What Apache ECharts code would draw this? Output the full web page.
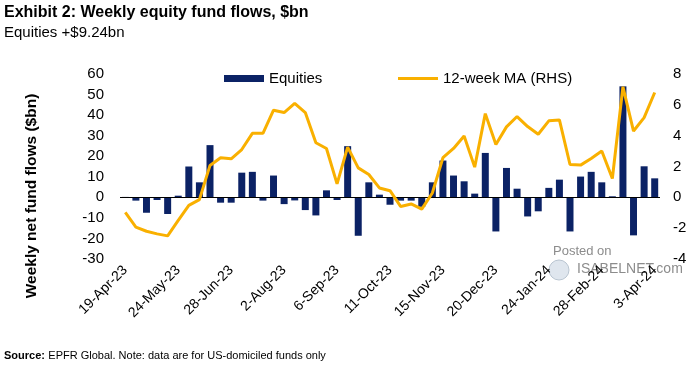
<!DOCTYPE html>
<html><head><meta charset="utf-8">
<script src="https://cdn.jsdelivr.net/npm/echarts@6/dist/echarts.min.js"></script>
<style>html,body{margin:0;padding:0;background:#fff}#c{width:690px;height:367px}</style>
</head><body><div id="c"></div>
<script>
const categories = ["19-Apr-23","26-Apr-23","3-May-23","10-May-23","17-May-23","24-May-23","31-May-23","7-Jun-23","14-Jun-23","21-Jun-23","28-Jun-23","5-Jul-23","12-Jul-23","19-Jul-23","26-Jul-23","2-Aug-23","9-Aug-23","16-Aug-23","23-Aug-23","30-Aug-23","6-Sep-23","13-Sep-23","20-Sep-23","27-Sep-23","4-Oct-23","11-Oct-23","18-Oct-23","25-Oct-23","1-Nov-23","8-Nov-23","15-Nov-23","22-Nov-23","29-Nov-23","6-Dec-23","13-Dec-23","20-Dec-23","27-Dec-23","3-Jan-24","10-Jan-24","17-Jan-24","24-Jan-24","31-Jan-24","7-Feb-24","14-Feb-24","21-Feb-24","28-Feb-24","6-Mar-24","13-Mar-24","20-Mar-24","27-Mar-24","3-Apr-24"];
const equities = [0.2,-1.6,-7.5,-1.3,-8.1,0.8,15.0,7.3,25.4,-2.6,-2.6,12.0,12.4,-1.6,10.6,-3.3,-1.5,-6.2,-8.8,3.4,-1.3,24.9,-18.7,7.3,1.3,-3.6,-1.6,-1.6,-4.6,7.3,17.9,10.6,7.8,1.8,21.6,-16.6,14.3,4.2,-9.3,-6.8,4.6,8.6,-16.6,10.1,12.4,7.3,0.5,54.0,-18.5,15.1,9.24];
const ma12 = [-0.98,-1.93,-2.2,-2.37,-2.5,-1.5,-0.52,-0.15,2.07,2.57,2.5,3.1,4.15,4.15,5.65,5.5,6.09,5.5,3.54,3.17,0.87,3.26,1.91,1.48,0.61,0.43,-0.59,-0.43,-0.76,0.28,2.57,3.17,3.98,1.96,5.43,3.43,4.57,5.24,4.59,4.09,4.96,5.02,2.13,2.09,2.52,3.0,1.22,7.17,4.3,5.17,6.8];
const leftTicks = {min:-30,max:60,interval:10};
const rightTicks = {min:-4,max:8,interval:2};

const FONT = '"Liberation Sans", Arial, sans-serif';
const chart = echarts.init(document.getElementById('c'));
chart.setOption({
  animation:false,
  textStyle:{fontFamily:FONT},
  grid:{left:120,right:30,top:74,bottom:108,containLabel:false},
  legend:[
    {left:224, top:71, padding:0, itemWidth:40, itemHeight:7, icon:'rect',
     textStyle:{fontSize:15,color:'#000',fontFamily:FONT}, data:['Equities']},
    {left:398, top:71, padding:0, itemWidth:40, itemHeight:3, icon:'rect',
     textStyle:{fontSize:15,color:'#000',fontFamily:FONT}, data:['12-week MA (RHS)']}
  ],
  xAxis:{
    type:'category', data:categories, boundaryGap:true,
    axisLine:{show:false,onZero:false}, axisTick:{show:false},
    axisLabel:{interval:4, rotate:45, fontSize:14, color:'#000', margin:9, fontFamily:FONT}
  },
  yAxis:[
    {type:'value', min:leftTicks.min, max:leftTicks.max, interval:leftTicks.interval,
     splitLine:{show:false}, axisLine:{show:false}, axisTick:{show:false},
     axisLabel:{fontSize:15,color:'#000',margin:16,fontFamily:FONT}},
    {type:'value', min:rightTicks.min, max:rightTicks.max, interval:rightTicks.interval,
     splitLine:{show:false}, axisLine:{show:false}, axisTick:{show:false},
     axisLabel:{fontSize:15,color:'#000',margin:13,fontFamily:FONT}}
  ],
  series:[
    {name:'Equities', type:'bar', data:equities, yAxisIndex:0, barWidth:7,
     itemStyle:{color:'#0B2265'},
     markLine:{silent:true, symbol:'none', label:{show:false},
       lineStyle:{color:'#000',width:1,type:'solid'}, data:[{yAxis:0}]}},
    {name:'12-week MA (RHS)', type:'line', data:ma12, yAxisIndex:1, symbol:'none',
     lineStyle:{color:'#F9B000',width:3}, itemStyle:{color:'#F9B000'}, z:5}
  ],
  graphic:[
    {type:'text', left:4, top:5, style:{text:'Exhibit 2: Weekly equity fund flows, $bn', font:'bold 16px '+FONT, fill:'#000'}},
    {type:'text', left:4, top:25, style:{text:'Equities +$9.24bn', font:'15px '+FONT, fill:'#000'}},
    {type:'text', x:32, y:196, rotation:Math.PI/2, style:{text:'Weekly net fund flows ($bn)', font:'bold 15.5px '+FONT, fill:'#000', align:'center', verticalAlign:'middle'}},
    {type:'text', left:4, top:350, style:{rich:{b:{font:'bold 11px '+FONT,fill:'#000'},n:{font:'11px '+FONT,fill:'#000'}}, text:'{b|Source:} {n|EPFR Global. Note: data are for US-domiciled funds only}'}},
    {type:'text', left:553, top:245, style:{text:'Posted on', font:'13px '+FONT, fill:'#8c8c8c'}},
    {type:'circle', shape:{cx:559, cy:270, r:10}, style:{fill:'#dfe6ee', stroke:'#b8c4d0'}},
    {type:'text', left:577, top:262, style:{text:'ISABELNET.com', font:'14px '+FONT, fill:'#8c8c8c'}}
  ]
});
</script></body></html>
